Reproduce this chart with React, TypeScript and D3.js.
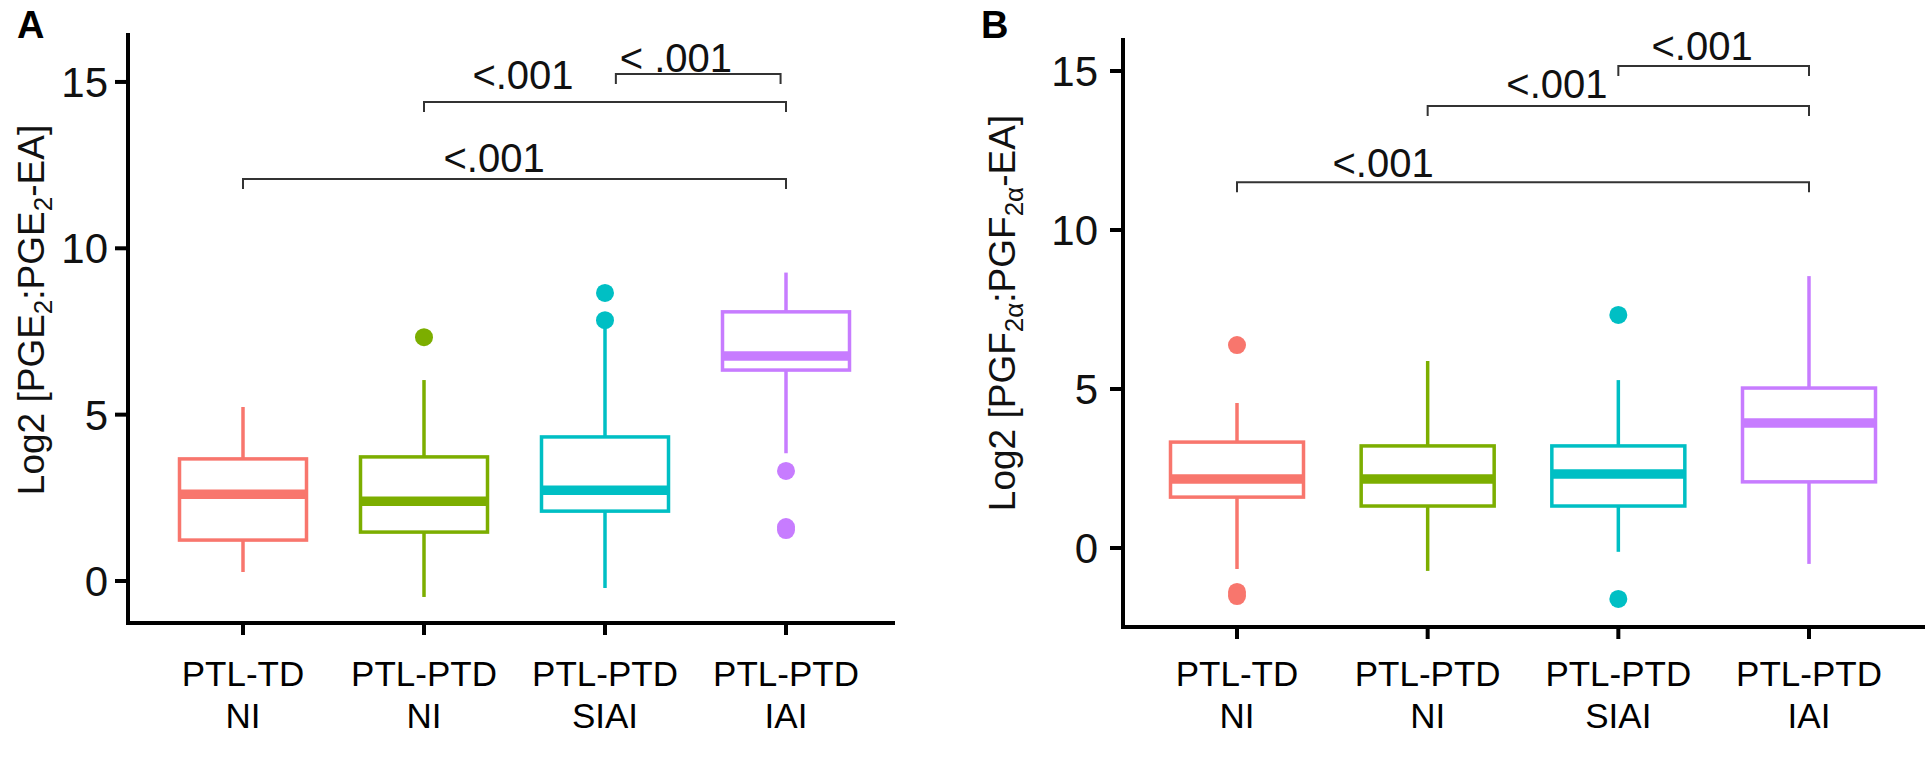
import React from "react";
import * as d3 from "d3";

// ---- shared categories ----
const catLine1 = ["PTL-TD", "PTL-PTD", "PTL-PTD", "PTL-PTD"];
const catLine2 = ["NI", "NI", "SIAI", "IAI"];
const catColors = ["#F8766D", "#7CAE00", "#00BFC4", "#C77CFF"];
const yTicks = [0, 5, 10, 15];

// ---- Panel A: Log2 [PGE2:PGE2-EA] ----
const pge2Lower = [0.27, -0.48, -0.21, 3.84];
const pge2Q1 = [1.23, 1.47, 2.1, 6.34];
const pge2Median = [2.61, 2.4, 2.73, 6.76];
const pge2Q3 = [3.67, 3.73, 4.33, 8.09];
const pge2Upper = [5.23, 6.04, 7.7, 9.27];
const pge2Outliers = [[], [7.33], [7.84, 8.66], [3.31, 1.62, 1.53]];
const pge2BracketFrom = [0, 1, 2.06];
const pge2BracketTo = [3, 3, 2.97];
const pge2BracketY = [12.08, 14.4, 15.24];
const pge2PLabel = ["<.001", "<.001", "< .001"];
const pge2PLabelX = [1.387, 1.547, 2.392];
const pge2PLabelY = [12.29, 14.79, 15.3];

// ---- Panel B: Log2 [PGF2a:PGF2a-EA] ----
const pgf2aLower = [-0.66, -0.72, -0.12, -0.5];
const pgf2aQ1 = [1.6, 1.32, 1.32, 2.08];
const pgf2aMedian = [2.17, 2.17, 2.33, 3.93];
const pgf2aQ3 = [3.33, 3.21, 3.21, 5.03];
const pgf2aUpper = [4.56, 5.88, 5.28, 8.55];
const pgf2aOutliers = [[6.38, -1.38, -1.51], [], [7.33, -1.6], []];
const pgf2aBracketFrom = [0, 1, 2];
const pgf2aBracketTo = [3, 3, 3];
const pgf2aBracketY = [11.5, 13.9, 15.16];
const pgf2aPLabel = ["<.001", "<.001", "<.001"];
const pgf2aPLabelX = [0.766, 1.678, 2.439];
const pgf2aPLabelY = [11.67, 14.15, 15.35];

const FONT = "'Liberation Sans', Arial, Helvetica, sans-serif";

type PanelProps = {
  letter: string;
  letterX: number;
  axisX: number;
  axisRight: number;
  plotTop: number;
  plotBottom: number;
  yDomain: [number, number];
  firstX: number;
  lastX: number;
  boxW: number;
  lower: number[];
  q1: number[];
  median: number[];
  q3: number[];
  upper: number[];
  outliers: number[][];
  bFrom: number[];
  bTo: number[];
  bY: number[];
  pLabel: string[];
  pX: number[];
  pY: number[];
  titleX: number;
  titleY: number;
  titleMain: string;
  titleSub: string;
  tickLabelGap: number;
};

function Panel(p: PanelProps) {
  const y = d3.scaleLinear().domain(p.yDomain).range([p.plotBottom, p.plotTop]);
  const x = d3.scaleLinear().domain([0, 3]).range([p.firstX, p.lastX]);
  const tip = 10;
  const title = (
    <text
      transform={`translate(${p.titleX},${p.titleY}) rotate(-90)`}
      textAnchor="middle"
      fontFamily={FONT}
      fontSize={37}
      fill="#111"
    >
      {"Log2 [" + p.titleMain}
      <tspan fontSize={26} dy={8}>{p.titleSub}</tspan>
      <tspan dy={-8}>{":" + p.titleMain}</tspan>
      <tspan fontSize={26} dy={8}>{p.titleSub}</tspan>
      <tspan dy={-8}>{"-EA]"}</tspan>
    </text>
  );
  return (
    <g>
      <text x={p.letterX} y={38} fontFamily={FONT} fontWeight="bold" fontSize={38} fill="#000">
        {p.letter}
      </text>
      {title}
      {/* boxes */}
      {catLine1.map((_, i) => {
        const cx = x(i);
        const c = catColors[i];
        return (
          <g key={i}>
            <line x1={cx} x2={cx} y1={y(p.upper[i])} y2={y(p.q3[i])} stroke={c} strokeWidth={3.5} />
            <line x1={cx} x2={cx} y1={y(p.q1[i])} y2={y(p.lower[i])} stroke={c} strokeWidth={3.5} />
            <rect
              x={cx - p.boxW / 2}
              y={y(p.q3[i])}
              width={p.boxW}
              height={y(p.q1[i]) - y(p.q3[i])}
              fill="#fff"
              stroke={c}
              strokeWidth={3.5}
            />
            <line
              x1={cx - p.boxW / 2}
              x2={cx + p.boxW / 2}
              y1={y(p.median[i])}
              y2={y(p.median[i])}
              stroke={c}
              strokeWidth={9.5}
            />
            {p.outliers[i].map((v, j) => (
              <circle key={j} cx={cx} cy={y(v)} r={9} fill={c} />
            ))}
          </g>
        );
      })}
      {/* brackets */}
      {p.bY.map((bv, i) => {
        const x1 = x(p.bFrom[i]);
        const x2 = x(p.bTo[i]);
        const yy = y(bv);
        return (
          <g key={i}>
            <path
              d={`M${x1},${yy + tip}V${yy}H${x2}V${yy + tip}`}
              fill="none"
              stroke="#333"
              strokeWidth={2}
            />
            <text
              x={x(p.pX[i])}
              y={y(p.pY[i])}
              textAnchor="middle"
              fontFamily={FONT}
              fontSize={40}
              fill="#111"
            >
              {p.pLabel[i]}
            </text>
          </g>
        );
      })}
      {/* axes */}
      <line x1={p.axisX} x2={p.axisX} y1={p.plotTop} y2={p.plotBottom} stroke="#000" strokeWidth={4} strokeLinecap="square" />
      <line x1={p.axisX} x2={p.axisRight} y1={p.plotBottom} y2={p.plotBottom} stroke="#000" strokeWidth={4} strokeLinecap="square" />
      {yTicks.map((t) => (
        <g key={t}>
          <line x1={p.axisX - 13} x2={p.axisX} y1={y(t)} y2={y(t)} stroke="#000" strokeWidth={4} />
          <text
            x={p.axisX - 13 - p.tickLabelGap}
            y={y(t)}
            dy="0.36em"
            textAnchor="end"
            fontFamily={FONT}
            fontSize={42}
            fill="#111"
          >
            {t}
          </text>
        </g>
      ))}
      {catLine1.map((l1, i) => (
        <g key={i}>
          <line x1={x(i)} x2={x(i)} y1={p.plotBottom} y2={p.plotBottom + 12} stroke="#000" strokeWidth={4} />
          <text x={x(i)} y={686} textAnchor="middle" fontFamily={FONT} fontSize={35} fill="#000">
            {l1}
          </text>
          <text x={x(i)} y={728} textAnchor="middle" fontFamily={FONT} fontSize={35} fill="#000">
            {catLine2[i]}
          </text>
        </g>
      ))}
    </g>
  );
}

export default function App() {
  const yA = (581 - 623) / 33.27;
  const yATop = (581 - 35) / 33.27;
  const yB = (548 - 627) / 31.8;
  const yBTop = (548 - 40) / 31.8;
  return (
    <svg
      width={1932}
      height={758}
      style={{ position: "absolute", left: 0, top: 0, background: "#fff" }}
    >
      <rect width={1932} height={758} fill="#fff" />
      <Panel
        letter="A"
        letterX={17}
        axisX={128}
        axisRight={893}
        plotTop={35}
        plotBottom={623}
        yDomain={[yA, yATop]}
        firstX={243}
        lastX={786}
        boxW={127}
        lower={pge2Lower}
        q1={pge2Q1}
        median={pge2Median}
        q3={pge2Q3}
        upper={pge2Upper}
        outliers={pge2Outliers}
        bFrom={pge2BracketFrom}
        bTo={pge2BracketTo}
        bY={pge2BracketY}
        pLabel={pge2PLabel}
        pX={pge2PLabelX}
        pY={pge2PLabelY}
        titleX={44}
        titleY={310}
        titleMain="PGE"
        titleSub="2"
        tickLabelGap={7}
      />
      <Panel
        letter="B"
        letterX={981}
        axisX={1123}
        axisRight={1923}
        plotTop={40}
        plotBottom={627}
        yDomain={[yB, yBTop]}
        firstX={1237}
        lastX={1809}
        boxW={133}
        lower={pgf2aLower}
        q1={pgf2aQ1}
        median={pgf2aMedian}
        q3={pgf2aQ3}
        upper={pgf2aUpper}
        outliers={pgf2aOutliers}
        bFrom={pgf2aBracketFrom}
        bTo={pgf2aBracketTo}
        bY={pgf2aBracketY}
        pLabel={pgf2aPLabel}
        pX={pgf2aPLabelX}
        pY={pgf2aPLabelY}
        titleX={1015}
        titleY={313}
        titleMain="PGF"
        titleSub="2α"
        tickLabelGap={12}
      />
    </svg>
  );
}
